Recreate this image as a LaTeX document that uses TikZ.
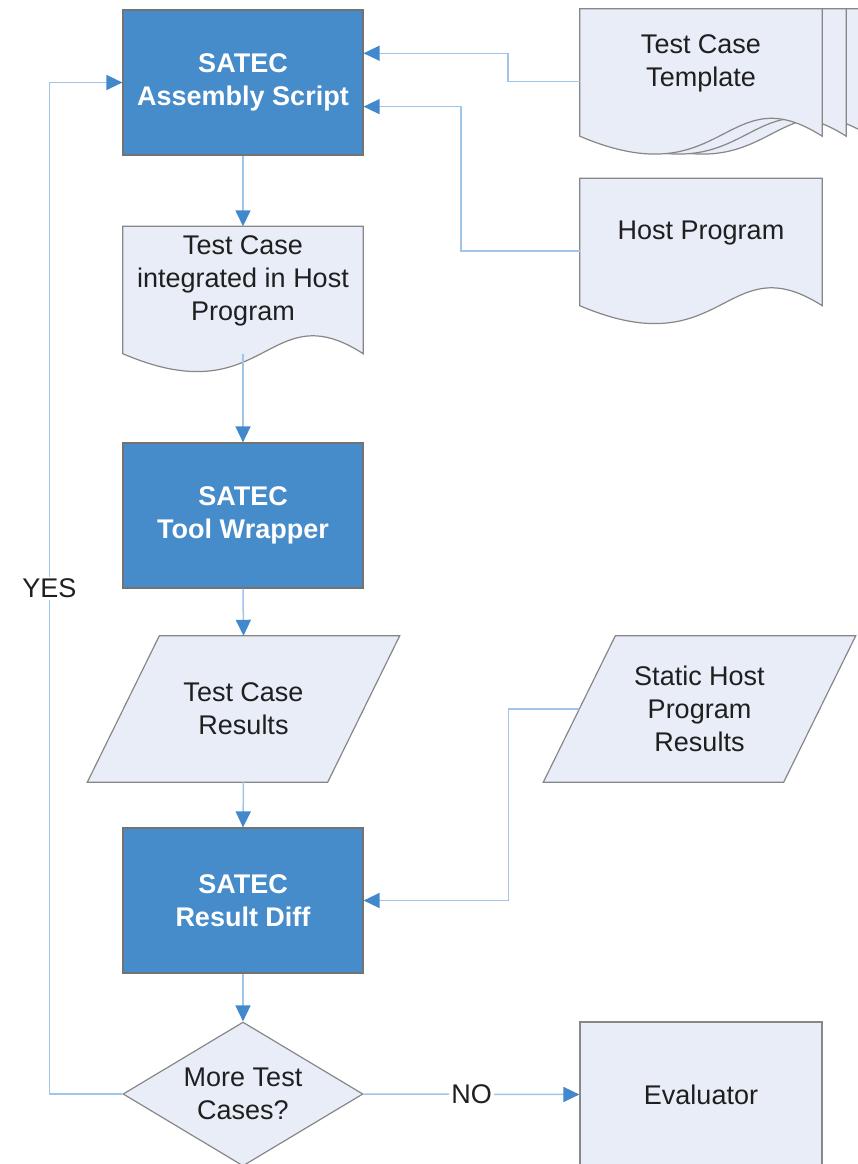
\documentclass[tikz,border=0pt]{standalone}
\usepackage{fontspec}
\setmainfont{Liberation Sans}
\usetikzlibrary{calc,shapes.geometric,arrows.meta,backgrounds}

\definecolor{satecblue}{RGB}{70,139,202}
\definecolor{pagefill}{RGB}{232,237,247}
\definecolor{edgegray}{RGB}{135,135,135}
\definecolor{linkblue}{RGB}{160,197,232}
\definecolor{tipblue}{RGB}{66,136,204}

\tikzset{
  every node/.style={font=\fontsize{27}{33}\selectfont,text=black!88},
  stepbox/.style={draw=black!55,line width=1.2pt,fill=satecblue,text=white,
    font=\fontsize{27}{33}\selectfont\bfseries,minimum width=240pt,
    minimum height=145pt,align=center,inner sep=0pt},
  plainbox/.style={draw=edgegray,line width=1.2pt,fill=pagefill,
    minimum width=242pt,minimum height=145pt,align=center,inner sep=0pt},
  docnode/.style={minimum width=242pt,minimum height=109pt,align=center,inner sep=0pt},
  docline/.style={draw=edgegray,line width=1.2pt,fill=pagefill},
  datanode/.style={minimum width=240pt,minimum height=146pt,align=center,inner sep=0pt},
  decide/.style={diamond,aspect=1.667,draw=edgegray,line width=1.2pt,fill=pagefill,
    minimum width=240pt,minimum height=144pt,align=center,inner sep=0pt},
  flow/.style={draw=linkblue,line width=1.5pt,
    -{Triangle[length=16pt,width=15pt,color=tipblue]}},
  lbl/.style={fill=white,inner sep=2pt}
}

% document page with wavy bottom, #1 = shift to the right
\newcommand{\docpage}[2][0]{%
  \filldraw[docline] ($(#2.north west)+(#1,0)$) -- ($(#2.north east)+(#1,0)$)
    -- ($(#2.south east)+(#1,18)$)
    .. controls ($(#2.south west)!0.6!(#2.south east)+(#1,-44)$)
    and ($(#2.south west)!0.6!(#2.south east)+(#1,80)$)
    .. ($(#2.south west)+(#1,18)$) -- cycle;}
% slanted data box round a node
\newcommand{\datapage}[1]{%
  \filldraw[docline] ($(#1.north west)+(36,0)$) -- ($(#1.north east)+(36,0)$)
    -- ($(#1.south east)+(-36,0)$) -- ($(#1.south west)+(-36,0)$) -- cycle;}

\begin{document}
\begin{tikzpicture}[x=1pt,y=-1pt]
\useasboundingbox (0,0) rectangle (858,1164);

% left column
\node[stepbox] (asm) at (243,82.5) {SATEC\\Assembly Script};
\node[docnode,minimum width=240pt] (integ) at (243,281) {Test Case\\integrated in Host\\Program};
\node[stepbox] (wrap) at (243,515.5) {SATEC\\Tool Wrapper};
\node[datanode] (tcres) at (243.5,709) {Test Case\\Results};
\node[stepbox] (diff) at (243,900.5) {SATEC\\Result Diff};
\node[decide] (more) at (243,1094) {More Test\\Cases?};

% right column
\node[docnode] (tmpl) at (701,63.5) {Test Case\\Template};
\node[docnode] (host) at (701,233) {Host Program};
\node[datanode] (static) at (699.5,709) {Static Host\\Program\\Results};
\node[plainbox] (eval) at (701,1094.5) {Evaluator};

\begin{scope}[on background layer]
  \docpage[48]{tmpl}
  \docpage[24]{tmpl}
  \docpage{tmpl}
  \docpage{host}
  \docpage{integ}
  \datapage{tcres}
  \datapage{static}
\end{scope}

\draw[flow] (asm.south) -- (integ.north);
\draw[flow] ([yshift=-18pt]integ.south) -- (wrap.north);
\draw[flow] (wrap.south) -- (tcres.north);
\draw[flow] (tcres.south) -- (diff.north);
\draw[flow] (diff.south) -- (more.north);
\draw[flow] (more.east) -- node[lbl] (no) {NO} (eval.west);
\draw[flow] (more.west) -- ++(-73,0) |- node[lbl,pos=0.25] (yes) {YES} (asm.west);
\draw[flow] ([yshift=-18pt]tmpl.west) -- ++(-72,0) |- ($(asm.north east)!0.3!(asm.south east)$);
\draw[flow] ([yshift=-18pt]host.west) -- ++(-119,0) |- ($(asm.north east)!0.665!(asm.south east)$);
\draw[flow] (static.west) -- ++(-71,0) |- (diff.east);
\end{tikzpicture}
\end{document}
